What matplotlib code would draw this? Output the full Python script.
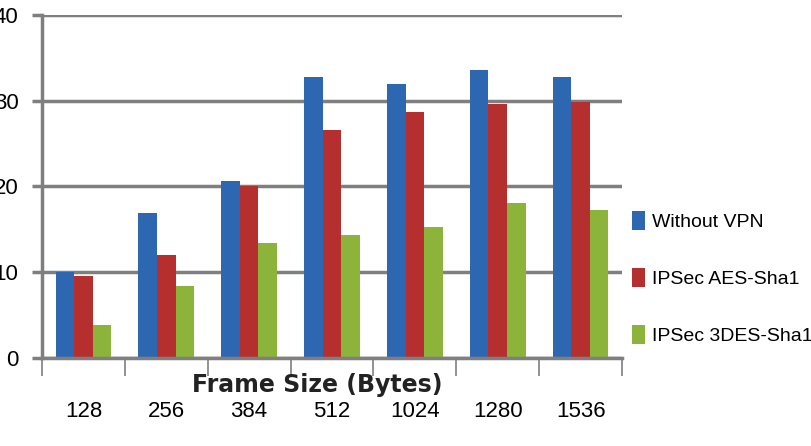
import matplotlib.pyplot as plt
import numpy as np
from matplotlib.ticker import FixedLocator

frame_sizes = ["128", "256", "384", "512", "1024", "1280", "1536"]
without_vpn = [10.0, 16.9, 20.6, 32.8, 32.0, 33.6, 32.8]
ipsec_aes = [9.6, 12.0, 20.1, 26.6, 28.7, 29.6, 29.9]
ipsec_3des = [3.8, 8.4, 13.4, 14.4, 15.3, 18.1, 17.3]

series = [("Without VPN", without_vpn, "#2e67b1"),
          ("IPSec AES-Sha1", ipsec_aes, "#b42f2e"),
          ("IPSec 3DES-Sha1", ipsec_3des, "#8cb43b")]

font = ["Liberation Sans", "DejaVu Sans"]
grey = "#7f7f7f"

fig = plt.figure(figsize=(8.11, 4.46), dpi=100)
ax = fig.add_axes([42 / 811, 88 / 446, 580 / 811, 343 / 446])

x = np.arange(len(frame_sizes))
w = 0.224
for i, (name, vals, col) in enumerate(series):
    ax.bar(x + (i - 1) * w, vals, w, color=col, label=name)

ax.set_xlim(-0.5, len(frame_sizes) - 0.5)
ax.set_ylim(0, 40)
ax.set_axisbelow(True)
ax.yaxis.grid(True, color=grey, linewidth=2.5)

for s in ["top", "right"]:
    ax.spines[s].set_visible(False)
for s in ["left", "bottom"]:
    ax.spines[s].set_color(grey)
    ax.spines[s].set_linewidth(2.5)

ax.set_yticks([0, 10, 20, 30, 40])
ax.tick_params(axis="y", length=7, width=2.5, color=grey, pad=10)
ax.set_xticks(x)
ax.set_xticklabels(frame_sizes)
ax.tick_params(axis="x", which="major", length=0, pad=31)
ax.xaxis.set_minor_locator(FixedLocator(np.arange(-0.5, len(frame_sizes), 1)))
ax.tick_params(axis="x", which="minor", length=13, width=1.2, color=grey)

for lab in ax.get_xticklabels() + ax.get_yticklabels():
    lab.set_family(font)
    lab.set_fontsize(16)

ax.set_xlabel("Frame Size (Bytes)", fontsize=17, fontweight="bold",
              color="#222222")
ax.xaxis.set_label_coords(0.474, -0.043)

leg = ax.legend(loc="center left", bbox_to_anchor=(0.987, 0.233), frameon=False,
                prop={"family": font, "size": 14}, handlelength=0.67,
                handleheight=1.15, handletextpad=0.35, labelspacing=1.9)

fig.savefig("out.png", dpi=100)
